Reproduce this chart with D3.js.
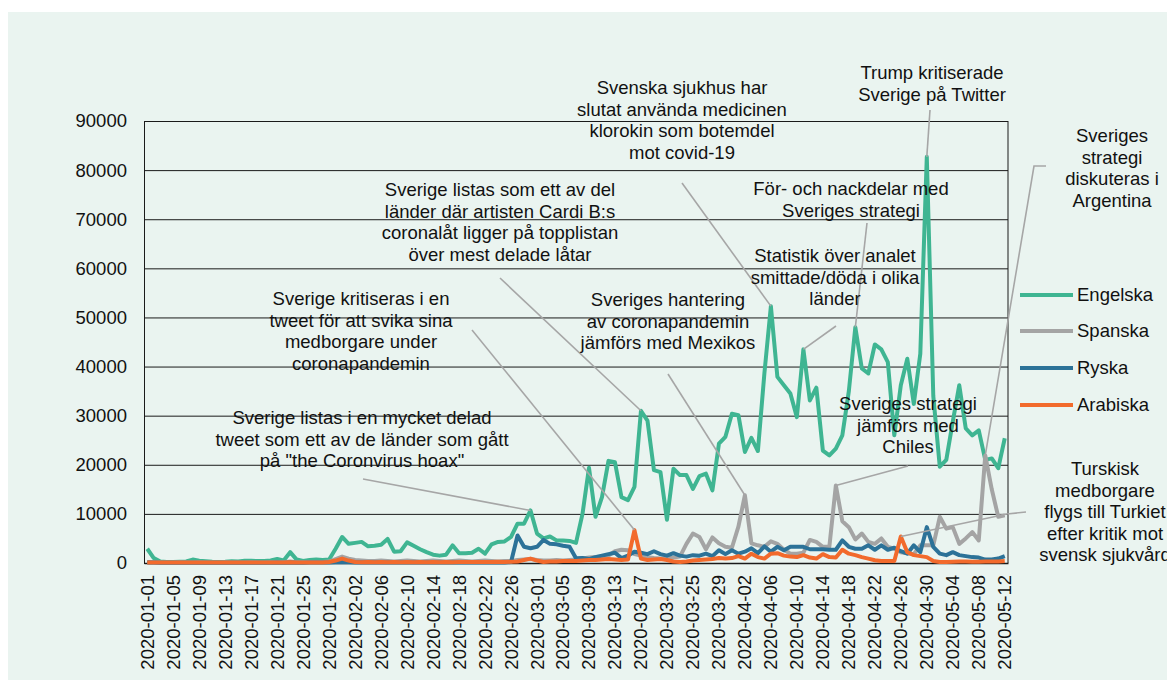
<!DOCTYPE html>
<html><head><meta charset="utf-8">
<script src="https://cdn.jsdelivr.net/npm/d3@7"></script>
<style>
body{margin:0;background:#fff;}
text{font-family:"Liberation Sans",Arial,sans-serif;fill:#111;}
</style></head><body>
<svg id="c" width="1167" height="680"></svg>
<script>
const startDate = "2020-01-01";
const endDate = "2020-05-12";
const seriesNames = ["Engelska","Spanska","Ryska","Arabiska"];
const yTicks = [0,10000,20000,30000,40000,50000,60000,70000,80000,90000];

const engelska = [2900,1000,300,200,200,250,300,700,450,350,250,200,250,350,300,450,450,400,400,500,
800,500,2200,700,400,600,700,600,700,2900,5300,3900,4100,4300,3400,3500,3700,4900,2300,2400,
4200,3500,2800,2200,1700,1500,1700,3600,2000,2000,2100,2900,1900,3800,4300,4400,5300,8000,8000,10700,
6000,5000,5400,4600,4600,4500,4100,10000,19400,9400,13400,20800,20500,13400,12800,15500,31000,29000,18900,18500,
8800,19200,17900,17900,15100,17700,18200,14800,24300,25700,30400,30100,22600,25500,22800,38600,52300,37900,36200,34500,
29700,43500,33100,35700,22900,21900,23300,26000,35000,48000,39600,38600,44500,43500,40900,26000,36200,41600,32400,42600,
82700,34000,19600,21000,28800,36200,27400,26000,27000,21000,21300,19300,25400];

const spanska = [200,150,100,100,100,150,100,100,150,100,100,100,150,100,100,100,150,100,100,150,
200,150,300,150,150,200,200,200,300,800,1300,900,600,500,400,400,500,400,300,400,
500,400,300,400,500,400,300,400,500,400,300,400,500,400,300,400,400,600,700,800,
600,500,500,600,500,600,700,900,1100,1200,1300,1500,2400,2700,2600,1800,1500,1200,1000,900,
1000,1100,1300,3900,6000,5300,2800,5200,4000,3300,3100,7400,13800,4000,3600,3300,4400,3900,2700,1900,
1900,2100,4700,4300,3300,3300,15800,8500,7300,4800,6000,4300,3900,5000,3300,2900,2200,2000,1800,3600,
3600,3600,9400,7000,7300,3900,5000,6300,4600,21900,15000,9400,9700];

const ryska = [100,80,60,50,50,60,50,50,60,50,50,50,60,50,50,50,60,50,50,60,
80,60,100,60,60,80,80,80,100,150,200,150,100,100,80,80,100,80,80,80,
100,80,80,80,100,80,80,80,100,80,80,80,100,80,80,100,200,5600,3300,3000,
3300,4700,3900,3800,3500,3300,950,1000,800,1200,1500,1800,2100,1000,1500,2300,2100,1800,2400,1800,
1500,2000,1500,1300,1600,1500,1900,1400,2600,1800,2600,1900,2300,3000,2000,3400,2300,3300,2600,3300,
3300,3300,2800,2800,2800,2700,2700,4600,3300,2900,2900,3600,2700,3600,2700,3100,2400,1900,3600,2200,
7300,3300,1900,1600,2200,1600,1400,1200,1100,700,700,900,1400];

const arabiska = [100,100,100,100,100,100,100,100,100,100,100,100,100,100,100,100,100,100,100,100,
100,100,150,100,100,100,100,100,200,500,900,500,200,150,200,150,200,150,200,150,
200,150,200,150,200,150,200,150,200,200,200,200,200,200,250,200,250,300,600,900,
500,200,300,300,400,400,400,500,600,600,700,800,700,600,700,6700,900,600,700,800,
600,300,200,300,500,600,700,800,1000,900,1000,1400,900,1900,1200,900,1900,2000,1500,1300,
1200,1600,1100,900,1800,1200,1100,2700,1900,1600,1200,900,550,400,400,400,5400,2200,1600,1400,
1200,400,200,200,250,300,300,250,250,300,300,300,400];

const seriesValues = [engelska, spanska, ryska, arabiska];
const seriesColors = ["#3fb592","#a4a4a4","#2c7298","#f26a2c"];

const annotations = [
  {lines:["Svenska sjukhus har","slutat använda medicinen","klorokin som botemdel","mot covid-19"], s:0, date:"2020-04-06", tx:682, ty:88, via:[[682,183]]},
  {lines:["Trump kritiserade","Sverige på Twitter"], s:0, date:"2020-04-30", tx:932, ty:73, via:[[930,110]]},
  {lines:["Sveriges","strategi","diskuteras i","Argentina"], s:1, date:"2020-05-09", tx:1112, ty:136, via:[[1046,166],[1034,166]]},
  {lines:["För- och nackdelar med","Sveriges strategi"], s:0, date:"2020-04-19", tx:851, ty:189, via:[[867,223]]},
  {lines:["Statistik över analet","smittade/döda i olika","länder"], s:0, date:"2020-04-11", tx:835, ty:256, via:[[836,326]]},
  {lines:["Sverige listas som ett av del","länder där artisten Cardi B:s","coronalåt ligger på topplistan","över mest delade låtar"], s:0, date:"2020-03-17", tx:500, ty:190, via:[[500,278]]},
  {lines:["Sverige kritiseras i en","tweet för att svika sina","medborgare under","coronapandemin"], s:3, date:"2020-03-16", tx:361, ty:299, via:[[472,330]]},
  {lines:["Sveriges hantering","av coronapandemin","jämförs med Mexikos"], s:1, date:"2020-04-02", tx:668, ty:300, via:[[668,374]]},
  {lines:["Sverige listas i en mycket delad","tweet som ett av de länder som gått","på \"the Coronvirus hoax\""], s:0, date:"2020-02-29", tx:362, ty:418, via:[[363,479]]},
  {lines:["Sveriges strategi","jämförs med","Chiles"], s:1, date:"2020-04-16", tx:908, ty:404, via:[[908,466]]},
  {lines:["Turskisk","medborgare","flygs till Turkiet","efter kritik mot","svensk sjukvård"], s:3, date:"2020-04-26", tx:1105, ty:469, via:[[1026,512],[1007,514]]}
];

const FS = 18.5;

// categories
const fmt = d3.timeFormat("%Y-%m-%d");
const parse = d3.timeParse("%Y-%m-%d");
const dates = d3.timeDay.range(parse(startDate), d3.timeDay.offset(parse(endDate),1)).map(fmt);

const svg = d3.select("#c");
svg.append("rect").attr("x",8).attr("y",12).attr("width",1167-8).attr("height",680-12).attr("fill","#eaf4f0");

const L=144, R=1008, T=121, B=563;
const x = d3.scaleBand().domain(dates).range([L,R]);
const xc = d => x(d) + x.bandwidth()/2;
const y = d3.scaleLinear().domain([0,90000]).range([B,T]);

// gridlines
const grid = svg.append("g").attr("transform",`translate(${L},0)`)
  .call(d3.axisLeft(y).tickValues(yTicks).tickSize(-(R-L)).tickFormat(""));
grid.select(".domain").remove();
grid.selectAll("line").attr("stroke","#1a1a1a").attr("stroke-width",1);

// y axis labels
const ya = svg.append("g").attr("transform",`translate(${L},0)`)
  .call(d3.axisLeft(y).tickValues(yTicks).tickSize(0).tickPadding(17).tickFormat(d3.format("d")));
ya.select(".domain").attr("stroke","#1a1a1a");
ya.selectAll("text").attr("font-size",FS).attr("fill","#111");

// right border
svg.append("line").attr("x1",R).attr("x2",R).attr("y1",T).attr("y2",B).attr("stroke","#1a1a1a");

// x axis
const xa = svg.append("g").attr("transform",`translate(0,${B})`)
  .call(d3.axisBottom(x).tickValues(dates.filter((d,i)=>i%4===0)).tickSize(0).tickPadding(0));
xa.select(".domain").attr("stroke","#1a1a1a").attr("stroke-width",1.5);
xa.selectAll("text").attr("font-size",FS).attr("fill","#111")
  .attr("transform","rotate(-90)").attr("text-anchor","end")
  .attr("x",-12).attr("y",0).attr("dy","0.35em");

// series
const line = d3.line().x((v,i)=>xc(dates[i])).y(v=>y(v));
seriesValues.forEach((vals,k)=>{
  svg.append("path").datum(vals).attr("d",line).attr("fill","none")
    .attr("stroke",seriesColors[k]).attr("stroke-width",4).attr("stroke-linejoin","round");
});

// annotations
annotations.forEach(a=>{
  const i = dates.indexOf(a.date);
  const pts = a.via.concat([[xc(a.date), y(seriesValues[a.s][i])]]);
  svg.append("path").attr("d",d3.line()(pts)).attr("fill","none")
    .attr("stroke","#a6a6a6").attr("stroke-width",1.6);
  const t = svg.append("text").attr("text-anchor","middle").attr("font-size",FS);
  a.lines.forEach((ln,j)=>{
    t.append("tspan").attr("x",a.tx).attr("y",a.ty + j*21.5).attr("dy","0.35em").text(ln);
  });
});

// legend
const legY = [295,331,368,405];
seriesNames.forEach((n,k)=>{
  svg.append("line").attr("x1",1020).attr("x2",1073).attr("y1",legY[k]).attr("y2",legY[k])
    .attr("stroke",seriesColors[k]).attr("stroke-width",4);
  svg.append("text").attr("x",1077).attr("y",legY[k]).attr("dy","0.35em").attr("font-size",FS).text(n);
});
</script>
</body></html>
